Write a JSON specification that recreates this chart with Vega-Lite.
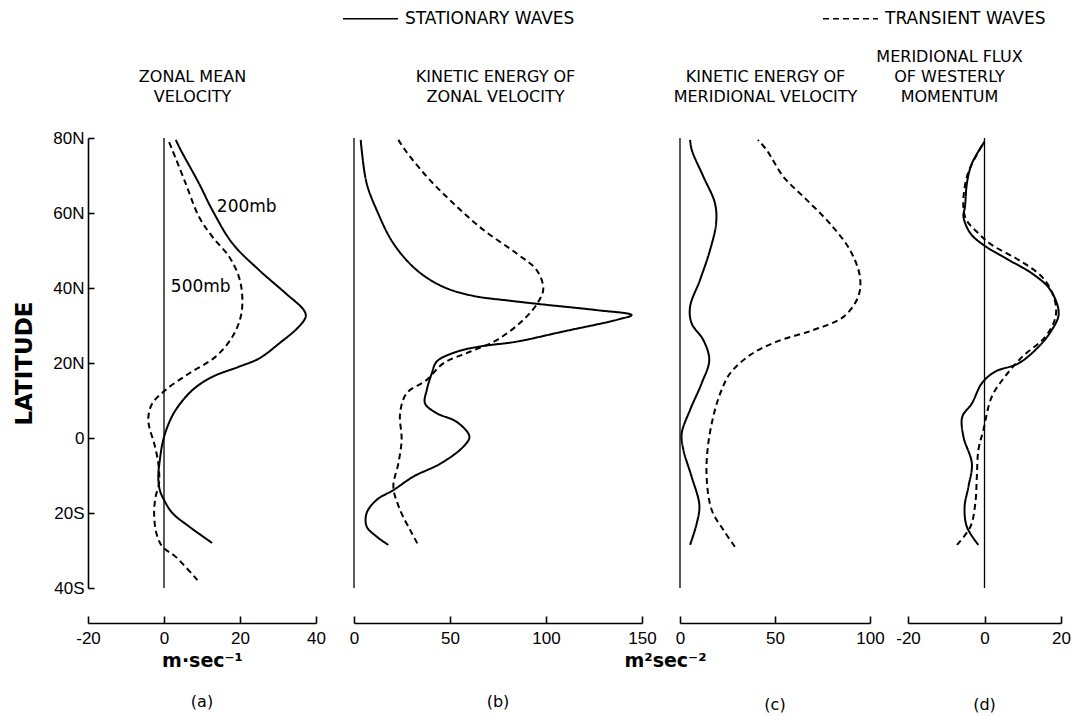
{
  "$schema": "https://vega.github.io/schema/vega-lite/v6.json",
  "background": "white",
  "padding": {"left": 13, "top": -10, "right": 5, "bottom": 0},
  "bounds": "flush",
  "spacing": 38,
  "config": {
    "view": {"stroke": null},
    "font": "DejaVu Sans",
    "axis": {"grid": false, "labelColor": "black", "domainColor": "black", "tickColor": "black", "titleColor": "black", "labelFont": "Liberation Sans", "labelFontSize": 17, "domainWidth": 1.6, "tickWidth": 1.6, "labelFlush": false},
    "title": {"font": "DejaVu Sans", "fontSize": 16, "fontWeight": "normal", "color": "black"}
  },
  "datasets": {
    "curves": [
      {"p":"a","s":"200mb","lat":79.5,"v":3.1},{"p":"a","s":"200mb","lat":76.8,"v":4.4},{"p":"a","s":"200mb","lat":67.9,"v":9.2},{"p":"a","s":"200mb","lat":60.8,"v":12.7},{"p":"a","s":"200mb","lat":51.9,"v":18},{"p":"a","s":"200mb","lat":44.8,"v":25},{"p":"a","s":"200mb","lat":38.6,"v":32},{"p":"a","s":"200mb","lat":34.1,"v":36.8},{"p":"a","s":"200mb","lat":32.4,"v":37.3},{"p":"a","s":"200mb","lat":29.7,"v":35.5},{"p":"a","s":"200mb","lat":25.2,"v":30.3},{"p":"a","s":"200mb","lat":21.2,"v":25},{"p":"a","s":"200mb","lat":19,"v":19.7},{"p":"a","s":"200mb","lat":16.3,"v":12.7},{"p":"a","s":"200mb","lat":12.8,"v":7.5},{"p":"a","s":"200mb","lat":7.5,"v":3.1},{"p":"a","s":"200mb","lat":3,"v":0.9},{"p":"a","s":"200mb","lat":-1.4,"v":-0.4},{"p":"a","s":"200mb","lat":-5.9,"v":-1.1},{"p":"a","s":"200mb","lat":-10.3,"v":-1.5},{"p":"a","s":"200mb","lat":-13.9,"v":-1.1},{"p":"a","s":"200mb","lat":-16.5,"v":0},{"p":"a","s":"200mb","lat":-20,"v":2.2},{"p":"a","s":"200mb","lat":-23.6,"v":6.6},{"p":"a","s":"200mb","lat":-28,"v":12.7},
      {"p":"a","s":"500mb","lat":79.5,"v":1.1},{"p":"a","s":"500mb","lat":76.8,"v":2.2},{"p":"a","s":"500mb","lat":67.9,"v":5.7},{"p":"a","s":"500mb","lat":59,"v":9.2},{"p":"a","s":"500mb","lat":53.7,"v":12.7},{"p":"a","s":"500mb","lat":48.4,"v":17.1},{"p":"a","s":"500mb","lat":43,"v":19.7},{"p":"a","s":"500mb","lat":37.7,"v":20.6},{"p":"a","s":"500mb","lat":32.4,"v":20.2},{"p":"a","s":"500mb","lat":27,"v":18},{"p":"a","s":"500mb","lat":21.7,"v":13.6},{"p":"a","s":"500mb","lat":17.2,"v":6.6},{"p":"a","s":"500mb","lat":12.8,"v":0.4},{"p":"a","s":"500mb","lat":9.2,"v":-3.1},{"p":"a","s":"500mb","lat":5.7,"v":-4.1},{"p":"a","s":"500mb","lat":3,"v":-3.9},{"p":"a","s":"500mb","lat":-1.4,"v":-2.6},{"p":"a","s":"500mb","lat":-6.8,"v":-1.5},{"p":"a","s":"500mb","lat":-12.1,"v":-1.3},{"p":"a","s":"500mb","lat":-15.6,"v":-2.2},{"p":"a","s":"500mb","lat":-20,"v":-2.6},{"p":"a","s":"500mb","lat":-25.4,"v":-2},{"p":"a","s":"500mb","lat":-29,"v":-0.4},{"p":"a","s":"500mb","lat":-31.7,"v":3.1},{"p":"a","s":"500mb","lat":-37.9,"v":8.8},
      {"p":"b","s":"STATIONARY WAVES","lat":79.5,"v":3.5},{"p":"b","s":"STATIONARY WAVES","lat":76.8,"v":4},{"p":"b","s":"STATIONARY WAVES","lat":67.9,"v":6.6},{"p":"b","s":"STATIONARY WAVES","lat":60.8,"v":11.8},{"p":"b","s":"STATIONARY WAVES","lat":51.9,"v":20.5},{"p":"b","s":"STATIONARY WAVES","lat":44.8,"v":32.6},{"p":"b","s":"STATIONARY WAVES","lat":40.3,"v":46.5},{"p":"b","s":"STATIONARY WAVES","lat":37.9,"v":62.1},{"p":"b","s":"STATIONARY WAVES","lat":36.6,"v":81.3},{"p":"b","s":"STATIONARY WAVES","lat":35.5,"v":100.4},{"p":"b","s":"STATIONARY WAVES","lat":34.1,"v":126.4},{"p":"b","s":"STATIONARY WAVES","lat":32.8,"v":144.6},{"p":"b","s":"STATIONARY WAVES","lat":31.5,"v":136.8},{"p":"b","s":"STATIONARY WAVES","lat":28.4,"v":109},{"p":"b","s":"STATIONARY WAVES","lat":25.7,"v":84.7},{"p":"b","s":"STATIONARY WAVES","lat":24.4,"v":65.6},{"p":"b","s":"STATIONARY WAVES","lat":23,"v":53.5},{"p":"b","s":"STATIONARY WAVES","lat":20.4,"v":43.1},{"p":"b","s":"STATIONARY WAVES","lat":17.2,"v":40.5},{"p":"b","s":"STATIONARY WAVES","lat":12.8,"v":37.9},{"p":"b","s":"STATIONARY WAVES","lat":9.2,"v":37},{"p":"b","s":"STATIONARY WAVES","lat":6.6,"v":43.1},{"p":"b","s":"STATIONARY WAVES","lat":4.3,"v":53.5},{"p":"b","s":"STATIONARY WAVES","lat":0.4,"v":60.1},{"p":"b","s":"STATIONARY WAVES","lat":-2.3,"v":57},{"p":"b","s":"STATIONARY WAVES","lat":-6.8,"v":45.1},{"p":"b","s":"STATIONARY WAVES","lat":-10.3,"v":30.9},{"p":"b","s":"STATIONARY WAVES","lat":-13.9,"v":20.5},{"p":"b","s":"STATIONARY WAVES","lat":-16.5,"v":11.8},{"p":"b","s":"STATIONARY WAVES","lat":-20,"v":6.6},{"p":"b","s":"STATIONARY WAVES","lat":-23.6,"v":6.6},{"p":"b","s":"STATIONARY WAVES","lat":-26.3,"v":11.8},{"p":"b","s":"STATIONARY WAVES","lat":-28.5,"v":17.9},
      {"p":"b","s":"TRANSIENT WAVES","lat":79.5,"v":23.1},{"p":"b","s":"TRANSIENT WAVES","lat":76.8,"v":26.6},{"p":"b","s":"TRANSIENT WAVES","lat":69.7,"v":37.9},{"p":"b","s":"TRANSIENT WAVES","lat":62.6,"v":51.7},{"p":"b","s":"TRANSIENT WAVES","lat":55.5,"v":67.4},{"p":"b","s":"TRANSIENT WAVES","lat":49.2,"v":84.7},{"p":"b","s":"TRANSIENT WAVES","lat":44.8,"v":95.1},{"p":"b","s":"TRANSIENT WAVES","lat":39.9,"v":98.6},{"p":"b","s":"TRANSIENT WAVES","lat":36.3,"v":96},{"p":"b","s":"TRANSIENT WAVES","lat":31.5,"v":88.2},{"p":"b","s":"TRANSIENT WAVES","lat":26.1,"v":74.3},{"p":"b","s":"TRANSIENT WAVES","lat":23,"v":60.4},{"p":"b","s":"TRANSIENT WAVES","lat":19.9,"v":46.5},{"p":"b","s":"TRANSIENT WAVES","lat":15.5,"v":37.9},{"p":"b","s":"TRANSIENT WAVES","lat":11.9,"v":27.4},{"p":"b","s":"TRANSIENT WAVES","lat":6.6,"v":24},{"p":"b","s":"TRANSIENT WAVES","lat":-0.5,"v":24.8},{"p":"b","s":"TRANSIENT WAVES","lat":-6.8,"v":23.1},{"p":"b","s":"TRANSIENT WAVES","lat":-13,"v":20.5},{"p":"b","s":"TRANSIENT WAVES","lat":-19.2,"v":24},{"p":"b","s":"TRANSIENT WAVES","lat":-24.5,"v":29.2},{"p":"b","s":"TRANSIENT WAVES","lat":-28.1,"v":33},
      {"p":"c","s":"STATIONARY WAVES","lat":79.5,"v":5.3},{"p":"c","s":"STATIONARY WAVES","lat":76.8,"v":6.2},{"p":"c","s":"STATIONARY WAVES","lat":69.7,"v":12.3},{"p":"c","s":"STATIONARY WAVES","lat":62.6,"v":18.4},{"p":"c","s":"STATIONARY WAVES","lat":57.2,"v":19},{"p":"c","s":"STATIONARY WAVES","lat":50.1,"v":15.8},{"p":"c","s":"STATIONARY WAVES","lat":42.1,"v":10.5},{"p":"c","s":"STATIONARY WAVES","lat":35,"v":5.3},{"p":"c","s":"STATIONARY WAVES","lat":30.6,"v":6.1},{"p":"c","s":"STATIONARY WAVES","lat":26.1,"v":12.3},{"p":"c","s":"STATIONARY WAVES","lat":20.8,"v":15.4},{"p":"c","s":"STATIONARY WAVES","lat":14.6,"v":11.4},{"p":"c","s":"STATIONARY WAVES","lat":7.5,"v":5.3},{"p":"c","s":"STATIONARY WAVES","lat":1.2,"v":0.9},{"p":"c","s":"STATIONARY WAVES","lat":-3.2,"v":1.8},{"p":"c","s":"STATIONARY WAVES","lat":-10.3,"v":6.1},{"p":"c","s":"STATIONARY WAVES","lat":-17.9,"v":10.2},{"p":"c","s":"STATIONARY WAVES","lat":-22.8,"v":8.8},{"p":"c","s":"STATIONARY WAVES","lat":-28.5,"v":5.3},
      {"p":"c","s":"TRANSIENT WAVES","lat":79.5,"v":41},{"p":"c","s":"TRANSIENT WAVES","lat":76.8,"v":45.6},{"p":"c","s":"TRANSIENT WAVES","lat":69.7,"v":54.4},{"p":"c","s":"TRANSIENT WAVES","lat":63.5,"v":66.7},{"p":"c","s":"TRANSIENT WAVES","lat":57.2,"v":78.9},{"p":"c","s":"TRANSIENT WAVES","lat":50.1,"v":89.5},{"p":"c","s":"TRANSIENT WAVES","lat":43,"v":94.7},{"p":"c","s":"TRANSIENT WAVES","lat":37.7,"v":93.8},{"p":"c","s":"TRANSIENT WAVES","lat":32.3,"v":86},{"p":"c","s":"TRANSIENT WAVES","lat":28.8,"v":70.2},{"p":"c","s":"TRANSIENT WAVES","lat":25.7,"v":50.9},{"p":"c","s":"TRANSIENT WAVES","lat":22.1,"v":36.8},{"p":"c","s":"TRANSIENT WAVES","lat":17.2,"v":26.3},{"p":"c","s":"TRANSIENT WAVES","lat":12.8,"v":21.9},{"p":"c","s":"TRANSIENT WAVES","lat":7.5,"v":18.4},{"p":"c","s":"TRANSIENT WAVES","lat":-1.4,"v":14.9},{"p":"c","s":"TRANSIENT WAVES","lat":-10.3,"v":14},{"p":"c","s":"TRANSIENT WAVES","lat":-19.2,"v":16.7},{"p":"c","s":"TRANSIENT WAVES","lat":-24.5,"v":22.8},{"p":"c","s":"TRANSIENT WAVES","lat":-29,"v":28.9},
      {"p":"d","s":"STATIONARY WAVES","lat":79,"v":0},{"p":"d","s":"STATIONARY WAVES","lat":73.2,"v":-3.3},{"p":"d","s":"STATIONARY WAVES","lat":67.9,"v":-4.6},{"p":"d","s":"STATIONARY WAVES","lat":61.7,"v":-5.1},{"p":"d","s":"STATIONARY WAVES","lat":59,"v":-5.5},{"p":"d","s":"STATIONARY WAVES","lat":54.6,"v":-3.7},{"p":"d","s":"STATIONARY WAVES","lat":51.5,"v":-0.3},{"p":"d","s":"STATIONARY WAVES","lat":47.5,"v":6.3},{"p":"d","s":"STATIONARY WAVES","lat":43.9,"v":12.4},{"p":"d","s":"STATIONARY WAVES","lat":39.5,"v":17.2},{"p":"d","s":"STATIONARY WAVES","lat":33.2,"v":19.4},{"p":"d","s":"STATIONARY WAVES","lat":28.8,"v":17.6},{"p":"d","s":"STATIONARY WAVES","lat":24.3,"v":14.1},{"p":"d","s":"STATIONARY WAVES","lat":19.9,"v":8.9},{"p":"d","s":"STATIONARY WAVES","lat":17.7,"v":2.8},{"p":"d","s":"STATIONARY WAVES","lat":14.6,"v":-0.7},{"p":"d","s":"STATIONARY WAVES","lat":9.2,"v":-3.3},{"p":"d","s":"STATIONARY WAVES","lat":5.7,"v":-5.8},{"p":"d","s":"STATIONARY WAVES","lat":0.3,"v":-5.5},{"p":"d","s":"STATIONARY WAVES","lat":-6.8,"v":-3.3},{"p":"d","s":"STATIONARY WAVES","lat":-13,"v":-4.2},{"p":"d","s":"STATIONARY WAVES","lat":-18.3,"v":-5.2},{"p":"d","s":"STATIONARY WAVES","lat":-23.7,"v":-4.6},{"p":"d","s":"STATIONARY WAVES","lat":-28.5,"v":-1.6},
      {"p":"d","s":"TRANSIENT WAVES","lat":79,"v":0},{"p":"d","s":"TRANSIENT WAVES","lat":69.7,"v":-4.6},{"p":"d","s":"TRANSIENT WAVES","lat":59,"v":-5.1},{"p":"d","s":"TRANSIENT WAVES","lat":54.6,"v":-1.6},{"p":"d","s":"TRANSIENT WAVES","lat":51.5,"v":1.9},{"p":"d","s":"TRANSIENT WAVES","lat":47.5,"v":8.9},{"p":"d","s":"TRANSIENT WAVES","lat":43,"v":15},{"p":"d","s":"TRANSIENT WAVES","lat":37.7,"v":18.1},{"p":"d","s":"TRANSIENT WAVES","lat":32.4,"v":18.6},{"p":"d","s":"TRANSIENT WAVES","lat":27,"v":15.9},{"p":"d","s":"TRANSIENT WAVES","lat":21.7,"v":9.9},{"p":"d","s":"TRANSIENT WAVES","lat":16.3,"v":5.3},{"p":"d","s":"TRANSIENT WAVES","lat":11,"v":1.9},{"p":"d","s":"TRANSIENT WAVES","lat":2.1,"v":-0.3},{"p":"d","s":"TRANSIENT WAVES","lat":-3.2,"v":-1.6},{"p":"d","s":"TRANSIENT WAVES","lat":-10.3,"v":-2},{"p":"d","s":"TRANSIENT WAVES","lat":-17.4,"v":-2.4},{"p":"d","s":"TRANSIENT WAVES","lat":-23.7,"v":-3.7},{"p":"d","s":"TRANSIENT WAVES","lat":-28.5,"v":-7.2}
    ],
    "labels": [
      {"text": "200mb", "lat": 61.7, "v": 13.9},
      {"text": "500mb", "lat": 40.3, "v": 1.8}
    ]
  },
  "hconcat": [
    {
      "width": 228, "height": 450,
      "title": {"text": "(a)", "orient": "bottom", "offset": 24},
      "layer": [
        {
          "data": {"values": [{}]},
          "mark": {"type": "rule", "color": "black", "strokeWidth": 1.3},
          "encoding": {
            "x": {"datum": 0, "type": "quantitative", "scale": {"domain": [-20, 40], "nice": false},
                  "axis": {"orient": "top", "labels": false, "ticks": false, "domain": false, "title": ["ZONAL MEAN", "VELOCITY"], "titleFont": "DejaVu Sans", "titleFontSize": 16, "titleFontWeight": "normal", "titleLineHeight": 20, "titlePadding": 34, "titleX": 104}}
          }
        },
        {
          "data": {"name": "curves"},
          "transform": [{"filter": "datum.p == 'a'"}],
          "mark": {"type": "line", "interpolate": "catmull-rom", "color": "black", "strokeWidth": 2},
          "encoding": {
            "x": {"field": "v", "type": "quantitative", "scale": {"domain": [-20, 40], "nice": false},
                  "axis": {"orient": "bottom", "offset": 35, "values": [-20, 0, 20, 40], "labelExpr": "datum.value < 0 ? '-' + (-datum.value) : '' + datum.value", "tickSize": -7, "labelPadding": 14, "title": "m·sec⁻¹", "titleFont": "DejaVu Sans", "titleFontSize": 19, "titleFontWeight": "bold", "titlePadding": 5}},
            "y": {"field": "lat", "type": "quantitative", "scale": {"domain": [-40, 80], "nice": false},
                  "axis": {"values": [-40, -20, 0, 20, 40, 60, 80], "labelExpr": "datum.value > 0 ? datum.value + 'N' : (datum.value < 0 ? (-datum.value) + 'S' : '0')", "tickSize": -6, "labelPadding": 10, "title": "LATITUDE", "titleFont": "DejaVu Sans", "titleFontSize": 23, "titleFontWeight": "bold", "titlePadding": 16}},
            "order": {"field": "lat", "type": "quantitative"},
            "detail": {"field": "s", "type": "nominal"},
            "strokeDash": {"condition": {"test": "datum.s == '500mb'", "value": [6, 4]}, "value": [1, 0]}
          }
        },
        {
          "data": {"name": "labels"},
          "mark": {"type": "text", "align": "left", "baseline": "middle", "font": "DejaVu Sans", "fontSize": 17, "color": "black"},
          "encoding": {
            "x": {"field": "v", "type": "quantitative", "scale": {"domain": [-20, 40], "nice": false}, "axis": null},
            "y": {"field": "lat", "type": "quantitative", "scale": {"domain": [-40, 80], "nice": false}},
            "text": {"field": "text"}
          }
        }
      ],
      "resolve": {"axis": {"x": "independent"}}
    },
    {
      "width": 288, "height": 450,
      "title": {"text": "(b)", "orient": "bottom", "offset": 24},
      "layer": [
        {
          "data": {"values": [{}]},
          "mark": {"type": "rule", "color": "black", "strokeWidth": 1.3},
          "encoding": {
            "x": {"datum": 0, "type": "quantitative", "scale": {"domain": [0, 150], "nice": false},
                  "axis": {"orient": "top", "labels": false, "ticks": false, "domain": false, "title": ["KINETIC ENERGY OF", "ZONAL VELOCITY"], "titleFont": "DejaVu Sans", "titleFontSize": 16, "titleFontWeight": "normal", "titleLineHeight": 20, "titlePadding": 34, "titleX": 141}}
          }
        },
        {
          "data": {"name": "curves"},
          "transform": [{"filter": "datum.p == 'b'"}],
          "mark": {"type": "line", "interpolate": "catmull-rom", "color": "black", "strokeWidth": 2},
          "encoding": {
            "x": {"field": "v", "type": "quantitative", "scale": {"domain": [0, 150], "nice": false},
                  "axis": {"orient": "bottom", "offset": 35, "values": [0, 50, 100, 150], "tickSize": -7, "labelPadding": 14, "title": "m²sec⁻²", "titleFont": "DejaVu Sans", "titleFontSize": 19, "titleFontWeight": "bold", "titlePadding": 5, "titleX": 311}},
            "y": {"field": "lat", "type": "quantitative", "scale": {"domain": [-40, 80], "nice": false}, "axis": null},
            "order": {"field": "lat", "type": "quantitative"},
            "strokeDash": {"field": "s", "type": "nominal", "scale": {"domain": ["STATIONARY WAVES", "TRANSIENT WAVES"], "range": [[1, 0], [6, 4]]},
                           "legend": {"title": null, "orient": "none", "legendX": 254, "legendY": -148, "direction": "horizontal", "symbolType": "stroke", "symbolSize": 3025, "symbolStrokeWidth": 1.6, "symbolStrokeColor": "black", "labelFont": "DejaVu Sans", "labelFontSize": 17, "labelColor": "black", "labelOffset": 6, "columnPadding": 244, "labelLimit": 400}}
          }
        }
      ],
      "resolve": {"axis": {"x": "independent"}}
    },
    {
      "width": 190, "height": 450,
      "title": {"text": "(c)", "orient": "bottom", "offset": 51},
      "layer": [
        {
          "data": {"values": [{}]},
          "mark": {"type": "rule", "color": "black", "strokeWidth": 1.3},
          "encoding": {
            "x": {"datum": 0, "type": "quantitative", "scale": {"domain": [0, 100], "nice": false},
                  "axis": {"orient": "top", "labels": false, "ticks": false, "domain": false, "title": ["KINETIC ENERGY OF", "MERIDIONAL VELOCITY"], "titleFont": "DejaVu Sans", "titleFontSize": 16, "titleFontWeight": "normal", "titleLineHeight": 20, "titlePadding": 34, "titleX": 85}}
          }
        },
        {
          "data": {"name": "curves"},
          "transform": [{"filter": "datum.p == 'c'"}],
          "mark": {"type": "line", "interpolate": "catmull-rom", "color": "black", "strokeWidth": 2},
          "encoding": {
            "x": {"field": "v", "type": "quantitative", "scale": {"domain": [0, 100], "nice": false},
                  "axis": {"orient": "bottom", "offset": 35, "values": [0, 50, 100], "tickSize": -7, "labelPadding": 14, "title": null}},
            "y": {"field": "lat", "type": "quantitative", "scale": {"domain": [-40, 80], "nice": false}, "axis": null},
            "order": {"field": "lat", "type": "quantitative"},
            "strokeDash": {"field": "s", "type": "nominal", "scale": {"domain": ["STATIONARY WAVES", "TRANSIENT WAVES"], "range": [[1, 0], [6, 4]]},
                           "legend": {"title": null, "orient": "none", "legendX": 254, "legendY": -148, "direction": "horizontal", "symbolType": "stroke", "symbolSize": 3025, "symbolStrokeWidth": 1.6, "symbolStrokeColor": "black", "labelFont": "DejaVu Sans", "labelFontSize": 17, "labelColor": "black", "labelOffset": 6, "columnPadding": 244, "labelLimit": 400}}
          }
        }
      ],
      "resolve": {"axis": {"x": "independent"}}
    },
    {
      "width": 153, "height": 450,
      "title": {"text": "(d)", "orient": "bottom", "offset": 51},
      "layer": [
        {
          "data": {"values": [{}]},
          "mark": {"type": "rule", "color": "black", "strokeWidth": 1.3},
          "encoding": {
            "x": {"datum": 0, "type": "quantitative", "scale": {"domain": [-20, 20], "nice": false},
                  "axis": {"orient": "top", "labels": false, "ticks": false, "domain": false, "title": ["MERIDIONAL FLUX", "OF WESTERLY", "MOMENTUM"], "titleFont": "DejaVu Sans", "titleFontSize": 16, "titleFontWeight": "normal", "titleLineHeight": 20, "titlePadding": 34, "titleX": 41}}
          }
        },
        {
          "data": {"name": "curves"},
          "transform": [{"filter": "datum.p == 'd'"}],
          "mark": {"type": "line", "interpolate": "catmull-rom", "color": "black", "strokeWidth": 2},
          "encoding": {
            "x": {"field": "v", "type": "quantitative", "scale": {"domain": [-20, 20], "nice": false},
                  "axis": {"orient": "bottom", "offset": 35, "values": [-20, 0, 20], "labelExpr": "datum.value < 0 ? '-' + (-datum.value) : '' + datum.value", "tickSize": -7, "labelPadding": 14, "title": null}},
            "y": {"field": "lat", "type": "quantitative", "scale": {"domain": [-40, 80], "nice": false}, "axis": null},
            "order": {"field": "lat", "type": "quantitative"},
            "strokeDash": {"field": "s", "type": "nominal", "scale": {"domain": ["STATIONARY WAVES", "TRANSIENT WAVES"], "range": [[1, 0], [6, 4]]},
                           "legend": {"title": null, "orient": "none", "legendX": 254, "legendY": -148, "direction": "horizontal", "symbolType": "stroke", "symbolSize": 3025, "symbolStrokeWidth": 1.6, "symbolStrokeColor": "black", "labelFont": "DejaVu Sans", "labelFontSize": 17, "labelColor": "black", "labelOffset": 6, "columnPadding": 244, "labelLimit": 400}}
          }
        }
      ],
      "resolve": {"axis": {"x": "independent"}}
    }
  ]
}
